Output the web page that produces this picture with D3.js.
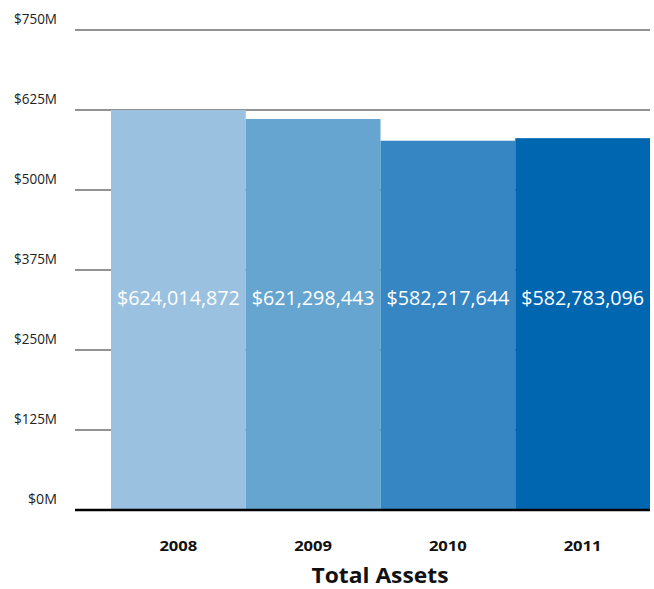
<!DOCTYPE html>
<html><head><meta charset="utf-8">
<script src="https://cdn.jsdelivr.net/npm/d3@7"></script>
<style>body{margin:0;background:#fff}svg{display:block}</style>
</head><body>
<script>
const years = ["2008", "2009", "2010", "2011"];
const values = [625, 611, 577, 581]; // bar heights in $M as drawn
const valueLabels = ["$624,014,872", "$621,298,443", "$582,217,644", "$582,783,096"];
const colors = ["#9ac1e0", "#66a5cf", "#3586c2", "#0066b0"];
const yTicks = [0, 125, 250, 375, 500, 625, 750];
const title = "Total Assets";

const W = 654, H = 589;
const svg = d3.select("body").append("svg").attr("width", W).attr("height", H);
const font = "'Open Sans', sans-serif";

const x = d3.scaleBand().domain(years).range([111, 650]).padding(0);
const y = d3.scaleLinear().domain([0, 750]).range([510, 30]);

// gridlines
svg.append("g").selectAll("line").data(yTicks.filter(d => d > 0)).join("line")
  .attr("x1", 75).attr("x2", 650)
  .attr("y1", d => y(d)).attr("y2", d => y(d))
  .attr("stroke", "#6e6e6e").attr("stroke-width", 1.4);

// y labels
svg.append("g").selectAll("text").data(yTicks).join("text")
  .attr("x", 57).attr("y", d => y(d) - 6)
  .attr("text-anchor", "end")
  .attr("font-family", font).attr("font-size", 14).attr("fill", "#222")
  .attr("textLength", d => d === 0 ? 29 : 43).attr("lengthAdjust", "spacingAndGlyphs")
  .text(d => "$" + d + "M");

// bars
svg.append("g").selectAll("rect").data(values).join("rect")
  .attr("x", (d, i) => x(years[i]))
  .attr("width", x.bandwidth())
  .attr("y", d => y(d))
  .attr("height", d => y(0) - y(d))
  .attr("fill", (d, i) => colors[i]);

// value labels
svg.append("g").selectAll("text").data(valueLabels).join("text")
  .attr("x", (d, i) => x(years[i]) + x.bandwidth() / 2)
  .attr("y", 305)
  .attr("text-anchor", "middle")
  .attr("font-family", font).attr("font-size", 19.5).attr("fill", "#fff")
  .attr("textLength", 123).attr("lengthAdjust", "spacingAndGlyphs")
  .text(d => d);

// baseline
svg.append("line").attr("x1", 75).attr("x2", 650).attr("y1", y(0)).attr("y2", y(0))
  .attr("stroke", "#000").attr("stroke-width", 2.5);

// x labels
svg.append("g").selectAll("text").data(years).join("text")
  .attr("x", d => x(d) + x.bandwidth() / 2)
  .attr("y", 551)
  .attr("text-anchor", "middle")
  .attr("font-family", font).attr("font-size", 15).attr("font-weight", "bold").attr("fill", "#111")
  .attr("textLength", 38).attr("lengthAdjust", "spacingAndGlyphs")
  .text(d => d);

svg.append("text").attr("x", 380).attr("y", 583)
  .attr("text-anchor", "middle")
  .attr("font-family", font).attr("font-size", 22).attr("font-weight", "bold").attr("fill", "#111")
  .attr("textLength", 137).attr("lengthAdjust", "spacingAndGlyphs")
  .text(title);
</script>
</body></html>
